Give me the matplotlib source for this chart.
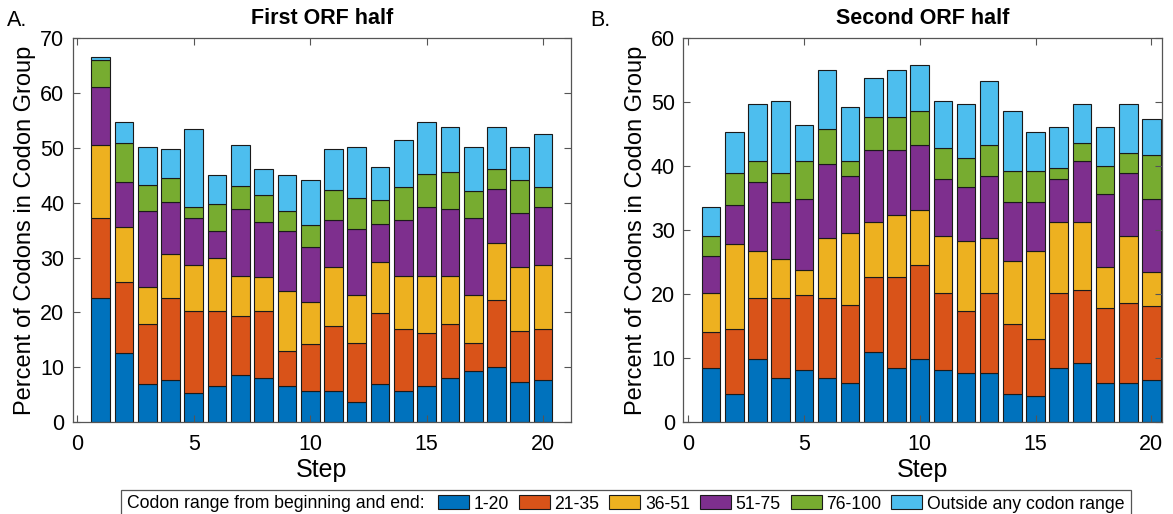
import numpy as np
import matplotlib.pyplot as plt
from matplotlib.patches import Rectangle

plt.rcParams['font.family'] = ['Liberation Sans', 'DejaVu Sans']

steps = np.arange(1, 21)
groups = ['1-20', '21-35', '36-51', '51-75', '76-100', 'Outside any codon range']
colors = ['#0072BD', '#D95319', '#EDB120', '#7E2F8E', '#77AC30', '#4DBEEE']

# first ORF half, percent per codon group (rows = groups, cols = steps 1..20)
first_1_20 = [22.7, 12.6, 6.9, 7.7, 5.3, 6.5, 8.5, 8.1, 6.5, 5.7, 5.7, 3.7, 6.9, 5.7, 6.5, 8.1, 9.3, 10.1, 7.3, 7.7]
first_21_35 = [14.5, 12.9, 10.9, 14.9, 15.0, 13.8, 10.9, 12.2, 6.5, 8.6, 11.8, 10.8, 12.9, 11.3, 9.8, 9.7, 5.2, 12.2, 9.3, 9.3]
first_36_51 = [13.4, 10.1, 6.8, 8.1, 8.4, 9.6, 7.3, 6.1, 10.9, 7.6, 10.8, 8.6, 9.4, 9.7, 10.4, 8.9, 8.6, 10.4, 11.7, 11.7]
first_51_75 = [10.5, 8.1, 13.9, 9.4, 8.5, 4.9, 12.1, 10.1, 10.9, 10.1, 8.5, 12.1, 6.9, 10.1, 12.6, 12.1, 14.1, 9.8, 9.8, 10.6]
first_76_100 = [4.9, 7.2, 4.8, 4.5, 2.1, 4.9, 4.2, 4.9, 3.7, 4.0, 5.6, 5.7, 4.4, 6.1, 6.0, 6.8, 4.9, 3.7, 6.0, 3.6]
first_outside = [0.5, 3.8, 6.9, 5.2, 14.2, 5.3, 7.6, 4.8, 6.5, 8.1, 7.4, 9.3, 6.1, 8.6, 9.4, 8.2, 8.1, 7.6, 6.1, 9.7]

# second ORF half
second_1_20 = [8.5, 4.4, 9.8, 6.9, 8.1, 6.9, 6.1, 10.9, 8.5, 9.8, 8.1, 7.7, 7.7, 4.4, 4.0, 8.5, 9.3, 6.1, 6.1, 6.5]
second_21_35 = [5.6, 10.2, 9.6, 12.5, 11.7, 12.5, 12.2, 11.7, 14.1, 14.8, 12.1, 9.7, 12.5, 11.0, 8.9, 11.7, 11.4, 11.7, 12.5, 11.7]
second_36_51 = [6.1, 13.3, 7.4, 6.1, 4.0, 9.3, 11.2, 8.6, 9.7, 8.5, 8.9, 10.9, 8.5, 9.7, 13.9, 11.0, 10.5, 6.5, 10.5, 5.2]
second_51_75 = [5.7, 6.0, 10.8, 8.9, 11.0, 11.7, 8.9, 11.3, 10.2, 10.2, 8.9, 8.5, 9.7, 9.3, 7.6, 6.8, 9.6, 11.3, 9.8, 11.4]
second_76_100 = [3.2, 5.0, 3.2, 4.5, 6.0, 5.4, 2.4, 5.2, 5.2, 5.3, 4.9, 4.5, 4.9, 4.8, 4.8, 1.7, 2.9, 4.5, 3.2, 6.9]
second_outside = [4.5, 6.4, 9.0, 11.3, 5.7, 9.2, 8.5, 6.1, 7.3, 7.3, 7.3, 8.5, 10.1, 9.4, 6.1, 6.4, 6.1, 6.0, 7.7, 5.7]

first = [first_1_20, first_21_35, first_36_51, first_51_75, first_76_100, first_outside]
second = [second_1_20, second_21_35, second_36_51, second_51_75, second_76_100, second_outside]

fig = plt.figure(figsize=(11.73, 5.14), dpi=100)
ax1 = fig.add_axes([0.062, 0.179, 0.4248, 0.7465])
ax2 = fig.add_axes([0.5825, 0.179, 0.408, 0.7465])


def stacked(ax, data, title, ymax, xmax):
    bottom = np.zeros(len(steps))
    bars = []
    for vals, c in zip(data, colors):
        b = ax.bar(steps, vals, 0.8, bottom=bottom, color=c, edgecolor='#1a1a1a', linewidth=0.8)
        bars.append(b)
        bottom = bottom + np.array(vals)
    ax.set_xlim(-0.2, xmax)
    ax.set_ylim(0, ymax)
    ax.set_xticks([0, 5, 10, 15, 20])
    ax.set_yticks(np.arange(0, ymax + 1, 10))
    ax.tick_params(direction='in', top=True, right=True, labelsize=15.5, length=5, color='#555555', pad=6)
    ax.tick_params(axis='x', pad=9)
    for s in ax.spines.values():
        s.set_color('#555555')
        s.set_linewidth(0.9)
    ax.set_xlabel('Step', fontsize=18, labelpad=2)
    ax.set_ylabel('Percent of Codons in Codon Group', fontsize=17, labelpad=3)
    ax.set_title(title, fontsize=15.5, fontweight='bold', pad=10)
    return bars


bars = stacked(ax1, first, 'First ORF half', 70, 21.2)
stacked(ax2, second, 'Second ORF half', 60, 20.45)

fig.text(0.006, 0.96, 'A.', fontsize=15.5, va='center', ha='left')
fig.text(0.503, 0.96, 'B.', fontsize=15.5, va='center', ha='left')

# legend strip along the bottom
fig.text(0.108, 0.0195, 'Codon range from beginning and end:', fontsize=12.7, va='center', ha='left')
leg = fig.legend([b[0] for b in bars], groups, ncol=6, frameon=False, fontsize=12.7,
                 loc='center left', bbox_to_anchor=(0.3734, 0.0195), handlelength=1.76, handleheight=0.85,
                 handletextpad=0.25, columnspacing=0.57, borderpad=0, borderaxespad=0)
fig.canvas.draw()
ext = leg.get_window_extent().transformed(fig.transFigure.inverted())
fig.patches.append(Rectangle((0.103, -0.01), ext.x1 + 0.006 - 0.103, 0.0567, transform=fig.transFigure,
                             facecolor='none', edgecolor='#555555', linewidth=0.9, zorder=0))

fig.savefig('out.png', dpi=100)
